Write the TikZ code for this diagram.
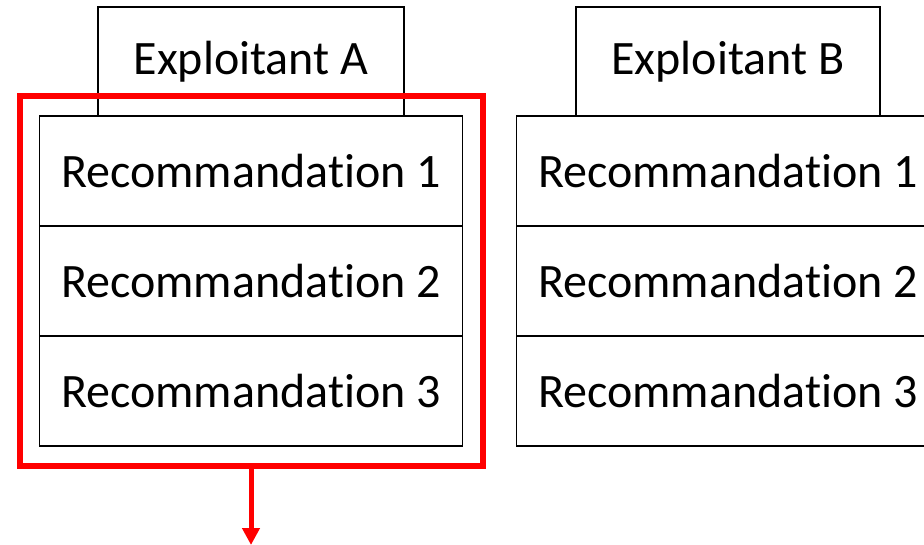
\documentclass[tikz,border=0pt]{standalone}
\usepackage{fontspec}
\setmainfont{Carlito}[RawFeature=-liga]
\usetikzlibrary{positioning,fit,arrows.meta}

\begin{document}
\begin{tikzpicture}[
    x=1pt, y=1pt,
    node distance=0pt,
    headbox/.style={draw, line width=1.8pt, outer sep=0pt, minimum height=109pt, inner sep=0pt, font=\fontsize{48}{56}\selectfont},
    recbox/.style={draw, line width=1.8pt, outer sep=0pt, minimum width=423pt, minimum height=110pt, inner sep=0pt, font=\fontsize{48}{56}\selectfont},
    group/.style={draw=red, line width=6pt, inner sep=20pt}
]
    \useasboundingbox (0,0) rectangle (924,-545);
    \clip (0,0) rectangle (924,-545);

    \node[headbox, minimum width=306pt] (exA) at (251,-61.5) {Exploitant A};
    \node[recbox, below=of exA.south] (recA1) {Recommandation 1};
    \node[recbox, below=of recA1] (recA2) {Recommandation 2};
    \node[recbox, below=of recA2] (recA3) {Recommandation 3};

    \node[headbox, minimum width=304pt] (exB) at (728,-61.5) {Exploitant B};
    \node[recbox, below=of exB.south] (recB1) {Recommandation 1};
    \node[recbox, below=of recB1] (recB2) {Recommandation 2};
    \node[recbox, below=of recB2] (recB3) {Recommandation 3};

    \node[group, fit=(recA1)(recA3)] (groupA) {};
    \coordinate (out) at (groupA.south |- 0,-545);
    \draw[red, line width=5pt, -{Triangle[width=17pt, length=17pt]}] (groupA.south) -- (out);
\end{tikzpicture}
\end{document}
